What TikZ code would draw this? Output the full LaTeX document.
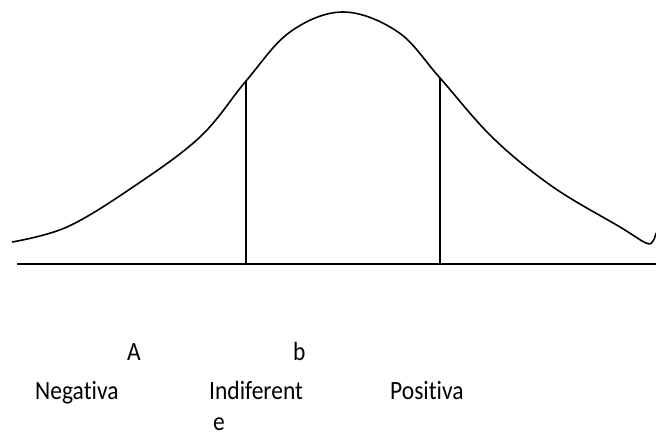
\documentclass[tikz,border=0pt]{standalone}
\usepackage{fontspec}
\usepackage{graphicx}
\setmainfont{Carlito}[Ligatures={NoCommon}]
\newcommand{\tallt}[1]{\scalebox{1}[1.12]{#1}}
\begin{document}
\begin{tikzpicture}[x=1pt,y=-1pt,
  curve/.style={line width=1.6pt},
  rule/.style={line width=1.6pt},
  lbl/.style={anchor=base west,inner sep=0pt,font=\fontsize{23.5}{28}\selectfont}]
\useasboundingbox (0,0) rectangle (656,437);
\draw[curve] plot[smooth,tension=0.6] coordinates {
 (12,242) (67,227) (133,187) (200,137) (246,81)
 (290,32) (343,12) (398,32) (440,78)
 (493,138) (553,187) (620,227) (646,243) (653,241) (656,233)};
\coordinate (p1) at (246,81);
\coordinate (p2) at (440,78);
\coordinate (b0) at (17,264);
\coordinate (b1) at (656,264);
\coordinate (q1) at (246,264);
\coordinate (q2) at (440,264);
\draw[rule] (b0) -- (b1);
\draw[rule] (p1) -- (q1);
\draw[rule] (p2) -- (q2);
\node[lbl] (a) at (127,360) {\tallt{A}};
\node[lbl] (b) at (293,360) {\tallt{b}};
\node[lbl] (neg) at (35,399) {\tallt{Negativa}};
\node[lbl] (ind) at (209,399) {\tallt{Indiferent}};
\node[lbl] (e) at (213,430) {\tallt{e}};
\node[lbl] (pos) at (390,399) {\tallt{Positiva}};
\end{tikzpicture}
\end{document}
